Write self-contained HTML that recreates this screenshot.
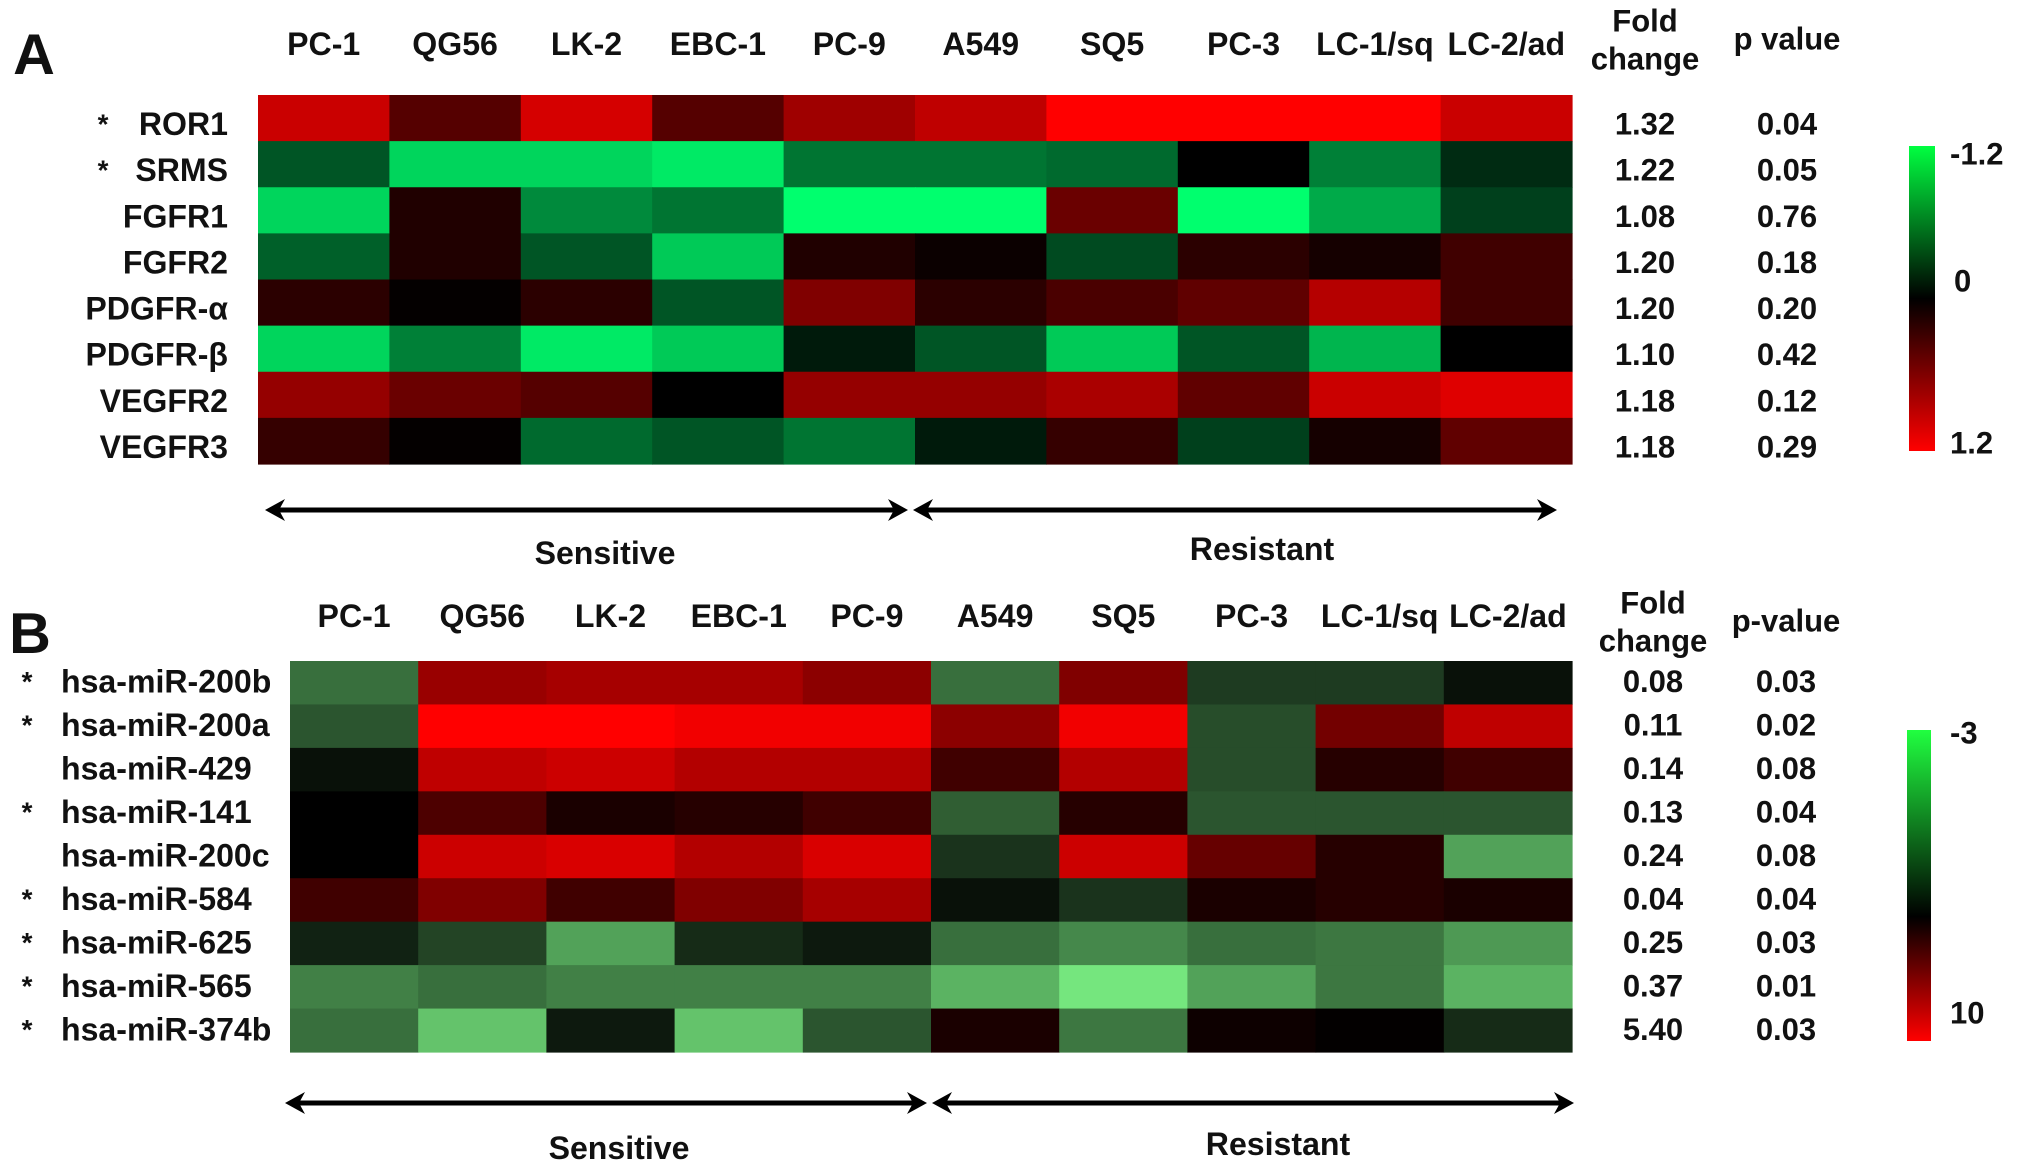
<!DOCTYPE html>
<html><head><meta charset="utf-8"><style>
html,body{margin:0;padding:0;background:#fff;}
svg{display:block;}
text{font-family:"Liberation Sans",sans-serif;font-weight:bold;fill:#111;}
</style></head><body>
<svg id="fig" width="2031" height="1172" viewBox="0 0 2031 1172" xmlns="http://www.w3.org/2000/svg">
<defs>
<linearGradient id="gA" x1="0" y1="0" x2="0" y2="1"><stop offset="0" stop-color="#00ff40"/><stop offset="0.5" stop-color="#000"/><stop offset="1" stop-color="#ff0000"/></linearGradient>
<linearGradient id="gB" x1="0" y1="0" x2="0" y2="1"><stop offset="0" stop-color="#20ff40"/><stop offset="0.6" stop-color="#000"/><stop offset="1" stop-color="#ff0000"/></linearGradient>
</defs>
</svg>
<script>
const cellLines = ["PC-1","QG56","LK-2","EBC-1","PC-9","A549","SQ5","PC-3","LC-1/sq","LC-2/ad"];
const genesA = ["ROR1","SRMS","FGFR1","FGFR2","PDGFR-α","PDGFR-β","VEGFR2","VEGFR3"];
const starA = [1,1,0,0,0,0,0,0];
const foldA = ["1.32","1.22","1.08","1.20","1.20","1.10","1.18","1.18"];
const pA = ["0.04","0.05","0.76","0.18","0.20","0.42","0.12","0.29"];
const valuesA = [
[0.95,0.4,1.0,0.4,0.75,0.9,1.2,1.2,1.2,0.95],
[-0.4,-1.0,-1.0,-1.1,-0.55,-0.55,-0.5,0.0,-0.6,-0.2],
[-1.0,0.15,-0.65,-0.55,-1.2,-1.2,0.5,-1.2,-0.8,-0.3],
[-0.45,0.15,-0.4,-0.95,0.15,0.05,-0.35,0.2,0.1,0.3],
[0.2,0.02,0.2,-0.4,0.6,0.2,0.35,0.45,0.85,0.3],
[-1.0,-0.6,-1.1,-0.95,-0.12,-0.4,-0.95,-0.4,-0.85,0.0],
[0.7,0.5,0.4,0.0,0.7,0.7,0.8,0.45,0.95,1.05],
[0.25,0.02,-0.5,-0.4,-0.55,-0.12,0.25,-0.3,0.1,0.45]];
const genesB = ["hsa-miR-200b","hsa-miR-200a","hsa-miR-429","hsa-miR-141","hsa-miR-200c","hsa-miR-584","hsa-miR-625","hsa-miR-565","hsa-miR-374b"];
const starB = [1,1,0,1,0,1,1,1,1];
const foldB = ["0.08","0.11","0.14","0.13","0.24","0.04","0.25","0.37","5.40"];
const pB = ["0.03","0.02","0.08","0.04","0.08","0.04","0.03","0.01","0.03"];
const valuesB = [
[-1.3,6,6.5,6.5,5.5,-1.3,5,-0.7,-0.7,-0.2],
[-1.0,10,10,9.5,9.5,5.5,9.5,-0.9,4.5,7.5],
[-0.2,7.5,8,7,7,2.5,7,-0.9,1.5,2.5],
[0,3,1,1.5,2.5,-1.1,1.5,-1.0,-1.0,-1.0],
[0,8,8.5,7,8.5,-0.6,8,4,1.5,-1.9],
[2.5,5,2.5,5,6.5,-0.2,-0.6,1,1.5,1],
[-0.4,-0.8,-1.9,-0.5,-0.3,-1.3,-1.6,-1.3,-1.4,-1.8],
[-1.5,-1.3,-1.5,-1.5,-1.5,-2.1,-2.7,-1.9,-1.4,-2.1],
[-1.3,-2.3,-0.3,-2.3,-1.0,1,-1.4,0.5,0.1,-0.5]];

const NS="http://www.w3.org/2000/svg";
const svg=document.getElementById('fig');
function el(tag,attrs,parent){const e=document.createElementNS(NS,tag);for(const k in attrs)e.setAttribute(k,attrs[k]);(parent||svg).appendChild(e);return e;}
function txt(s,x,y,size,anchor,name,parent){
  const t=el('text',{x:x,y:y,'font-size':size*1.07,'text-anchor':anchor||'middle','dominant-baseline':'central'},parent);
  t.textContent=s;
  
  
  return t;}
function colA(v){if(v>=0){const t=Math.min(v/1.2,1);return `rgb(${Math.round(255*t)},0,0)`;}const t=Math.min(-v/1.2,1);return `rgb(0,${Math.round(255*t)},${Math.round(110*t)})`;}
function colB(v){if(v>=0){const t=Math.min(v/10,1);return `rgb(${Math.round(255*t)},0,0)`;}const t=Math.min(-v/3,1);return `rgb(${Math.round(130*t)},${Math.round(255*t)},${Math.round(140*t)})`;}

function panel(o){
  const g=el('g',{});
  
  
  const cw=(o.x1-o.x0)/cellLines.length, rh=(o.y1-o.y0)/o.genes.length;
  const xs=i=>o.x0+i*cw, ys=j=>o.y0+j*rh;
  txt(o.letter,o.letterX,o.letterY,54,'middle',o.id+'-panel-letter',g);
  cellLines.forEach((c,i)=>txt(c,xs(i)+cw/2,o.colY,30,'middle','column-label-'+c.toLowerCase().replace('/','-'),g));
  o.values.forEach((row,j)=>row.forEach((v,i)=>{
    const r=el('rect',{x:xs(i),y:ys(j),width:cw+0.6,height:rh+0.6,fill:o.col(v)},g);
    
    
  }));
  o.genes.forEach((gn,j)=>{
    const cy=ys(j)+rh/2+o.labelDy;
    txt(gn,o.labelX,cy,30,o.labelAnchor,'row-label-'+gn.toLowerCase(),g);
    if(o.stars[j]) txt('*',o.starX,cy,26,'middle','significance-star',g);
    txt(o.fold[j],o.foldX,cy,29,'middle','fold-change-value',g);
    txt(o.p[j],o.pX,cy,29,'middle','p-value',g);
  });
  txt('Fold',o.foldX,o.foldY1,29,'middle','fold-change-header',g);
  txt('change',o.foldX,o.foldY2,29,'middle','fold-change-header',g);
  txt(o.pTitle,o.pX,o.pY,29,'middle','p-value-header',g);
  const cb=el('rect',{x:o.cbX,y:o.cbY0,width:o.cbW,height:o.cbY1-o.cbY0,fill:o.grad},g);
  
  
  o.cbLabels.forEach(l=>txt(l[0],l[1],l[2],29,'start','color-scale-label',g));
  function arrow(a,b,name){
    const ag=el('g',{},g);
    
    
    el('line',{x1:a+12,y1:o.arY,x2:b-12,y2:o.arY,stroke:'#000','stroke-width':5},ag);
    el('polygon',{points:`${a},${o.arY} ${a+20},${o.arY-11} ${a+14},${o.arY} ${a+20},${o.arY+11}`,fill:'#000'},ag);
    el('polygon',{points:`${b},${o.arY} ${b-20},${o.arY-11} ${b-14},${o.arY} ${b-20},${o.arY+11}`,fill:'#000'},ag);
  }
  arrow(o.ar[0],o.ar[1],'sensitive-arrow');
  arrow(o.ar[2],o.ar[3],'resistant-arrow');
  txt('Sensitive',o.sensX,o.textY,30,'middle','sensitive-label',g);
  txt('Resistant',o.resX,o.textY-4,30,'middle','resistant-label',g);
}
panel({id:'a',letter:'A',letterX:34,letterY:55,x0:258,x1:1572,y0:95,y1:464,colY:44,genes:genesA,values:valuesA,col:colA,
  stars:starA,fold:foldA,p:pA,labelX:228,labelAnchor:'end',starX:103,labelDy:6,foldX:1645,pX:1787,
  foldY1:21,foldY2:59,pTitle:'p value',pY:39,cbX:1909,cbY0:146,cbY1:451,cbW:26,grad:'url(#gA)',
  cbLabels:[['-1.2',1950,154],['0',1954,281],['1.2',1950,443]],ar:[265,908,913,1557],arY:510,sensX:605,resX:1262,textY:553});
panel({id:'b',letter:'B',letterX:30,letterY:634,x0:290,x1:1572,y0:661,y1:1052,colY:616,genes:genesB,values:valuesB,col:colB,
  stars:starB,fold:foldB,p:pB,labelX:61,labelAnchor:'start',starX:27,labelDy:-1,foldX:1653,pX:1786,
  foldY1:603,foldY2:641,pTitle:'p-value',pY:621,cbX:1907,cbY0:730,cbY1:1041,cbW:24,grad:'url(#gB)',
  cbLabels:[['-3',1950,733],['10',1950,1013]],ar:[285,927,932,1574],arY:1103,sensX:619,resX:1278,textY:1148});
</script>
</body></html>
